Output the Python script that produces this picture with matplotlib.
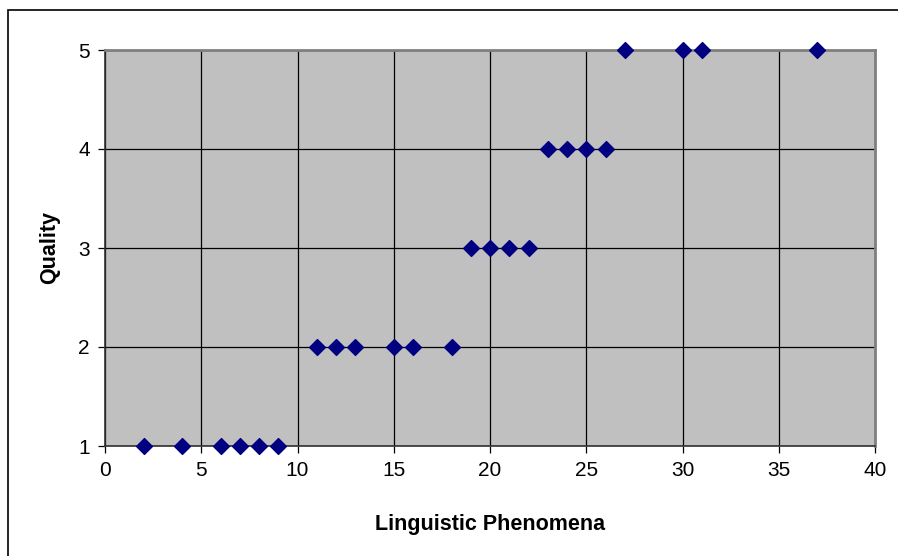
import matplotlib.pyplot as plt
from matplotlib.patches import Rectangle

plt.rcParams['font.family'] = ['Liberation Sans', 'DejaVu Sans']

# phenomena count vs quality score
phenomena = [2, 4, 6, 7, 8, 9,
             11, 12, 13, 15, 16, 18,
             19, 20, 21, 22,
             23, 24, 25, 26,
             27, 30, 31, 37]
quality = [1, 1, 1, 1, 1, 1,
           2, 2, 2, 2, 2, 2,
           3, 3, 3, 3,
           4, 4, 4, 4,
           5, 5, 5, 5]

x_ticks = [0, 5, 10, 15, 20, 25, 30, 35, 40]
y_ticks = [1, 2, 3, 4, 5]

fig = plt.figure(figsize=(8.98, 5.56), dpi=100)
ax = fig.add_axes([105/898, 1 - 446/556, 770/898, 396/556])

# outer frame of the chart object
fig.patches.append(Rectangle((8/898, -0.1), 1.2, (556 - 10)/556 + 0.1,
                             transform=fig.transFigure, fill=False,
                             edgecolor='black', linewidth=1.2))

ax.set_facecolor('#C0C0C0')
ax.grid(True, color='black', linewidth=0.9)
ax.set_axisbelow(True)

ax.scatter(phenomena, quality, marker='D', s=65, color='#000080',
           zorder=3, clip_on=False)

ax.set_xlim(0, 40)
ax.set_ylim(1, 5)
ax.set_xticks(x_ticks)
ax.set_yticks(y_ticks)
ax.tick_params(labelsize=15, length=5, width=0.9, direction='out', pad=6)

for side in ['top', 'right']:
    ax.spines[side].set_color('#808080')
    ax.spines[side].set_linewidth(2)
for side in ['left', 'bottom']:
    ax.spines[side].set_color('#303030')
    ax.spines[side].set_linewidth(1.2)

ax.set_xlabel('Linguistic Phenomena', fontsize=15.5, fontweight='bold', labelpad=24)
ax.set_ylabel('Quality', fontsize=15.5, fontweight='bold', labelpad=13)

fig.savefig('out.png', dpi=100)
